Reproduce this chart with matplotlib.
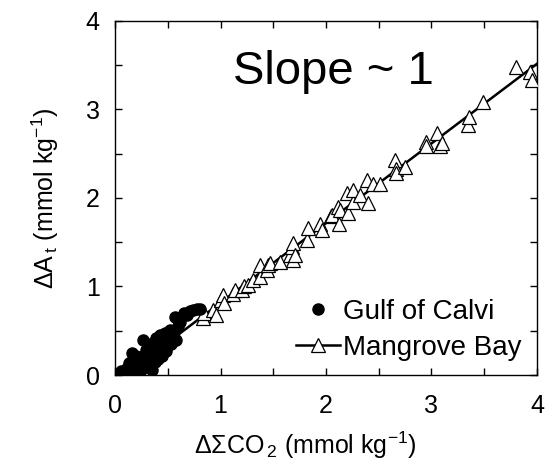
import numpy as np
import matplotlib
matplotlib.use("Agg")
import matplotlib.pyplot as plt
from matplotlib.lines import Line2D

plt.rcParams["font.family"] = ["Liberation Sans", "DejaVu Sans"]
plt.rcParams["mathtext.fontset"] = "custom"
plt.rcParams["mathtext.rm"] = "Liberation Sans"
plt.rcParams["mathtext.default"] = "regular"

# ── Data ──────────────────────────────────────────────────────────────────────

calvi_x = [0.05, 0.07, 0.08, 0.10, 0.12, 0.14, 0.15, 0.16, 0.18, 0.20, 0.21, 0.22,
           0.24, 0.25, 0.27, 0.28, 0.30, 0.32, 0.34, 0.36, 0.38, 0.40, 0.42, 0.43,
           0.45, 0.46, 0.47, 0.50, 0.52, 0.55, 0.57, 0.58, 0.62, 0.68, 0.74, 0.81,
           0.35, 0.25, 0.06, 0.09, 0.11, 0.13, 0.15, 0.17, 0.19, 0.20, 0.23, 0.26,
           0.29, 0.31, 0.33, 0.37, 0.39, 0.41, 0.44, 0.48, 0.49, 0.53, 0.56, 0.60,
           0.65, 0.71, 0.78]
calvi_y = [0.00, 0.02, 0.03, 0.05, 0.02, 0.09, 0.05, 0.25, 0.12, 0.08, 0.16, 0.03,
           0.13, 0.20, 0.40, 0.10, 0.21, 0.18, 0.28, 0.34, 0.15, 0.25, 0.35, 0.45,
           0.22, 0.30, 0.47, 0.38, 0.51, 0.44, 0.65, 0.40, 0.60, 0.68, 0.73, 0.75,
           0.06, 0.06, 0.04, 0.00, 0.08, 0.13, 0.00, 0.18, 0.03, 0.22, 0.08, 0.15,
           0.28, 0.12, 0.35, 0.22, 0.42, 0.18, 0.33, 0.27, 0.44, 0.35, 0.48, 0.55,
           0.70, 0.72, 0.74]

mangrove_x = [0.83, 0.84, 0.93, 0.96, 1.00, 1.02, 1.03, 1.12, 1.14, 1.20, 1.22, 1.26,
              1.31, 1.37, 1.37, 1.44, 1.45, 1.47, 1.56, 1.66, 1.68, 1.69, 1.69, 1.71,
              1.82, 1.83, 1.94, 1.96, 2.05, 2.06, 2.11, 2.12, 2.13, 2.20, 2.21, 2.26,
              2.26, 2.32, 2.39, 2.40, 2.45, 2.51, 2.65, 2.66, 2.66, 2.75, 2.95, 2.95,
              3.05, 3.08, 3.10, 3.35, 3.36, 3.49, 3.80, 3.93, 3.95]
mangrove_y = [0.64, 0.70, 0.73, 0.68, 0.85, 0.90, 0.81, 0.92, 0.96, 0.96, 1.00, 1.02,
              1.07, 1.11, 1.24, 1.19, 1.24, 1.26, 1.28, 1.35, 1.45, 1.49, 1.30, 1.35,
              1.52, 1.66, 1.71, 1.64, 1.79, 1.81, 1.90, 1.71, 1.86, 2.05, 1.83, 1.95,
              2.09, 2.03, 2.20, 1.94, 2.16, 2.16, 2.43, 2.33, 2.28, 2.35, 2.63, 2.58,
              2.73, 2.58, 2.62, 2.82, 2.91, 3.08, 3.48, 3.42, 3.33]

fit_range = [0.3, 4.0]
ticks = [0, 1, 2, 3, 4]

# ── Figure ────────────────────────────────────────────────────────────────────

fig = plt.figure(figsize=(5.54, 4.69), dpi=100, facecolor="white")
ax = fig.add_axes([0.2076, 0.2004, 0.7617, 0.7555])

slope, intercept = np.polyfit(mangrove_x, mangrove_y, 1)
xf = np.array(fit_range)
ax.plot(xf, slope * xf + intercept, color="black", lw=1.8, zorder=2)

ax.plot(mangrove_x, mangrove_y, linestyle="none", marker="^", markersize=10.5,
        markerfacecolor="white", markeredgecolor="black", markeredgewidth=0.9, zorder=3)
ax.plot(calvi_x, calvi_y, linestyle="none", marker="o", markersize=8,
        color="black", zorder=4)

ax.set_xlim(0, 4)
ax.set_ylim(0, 4)
ax.set_xticks(ticks)
ax.set_yticks(ticks)
ax.set_xticks(np.arange(0.5, 4, 1), minor=True)
ax.set_yticks(np.arange(0.5, 4, 1), minor=True)
ax.tick_params(which="both", direction="in", top=True, right=True,
               length=5, width=1, labelsize=18)
ax.tick_params(axis="x", which="major", pad=14)
ax.tick_params(axis="y", which="major", pad=11)
for s in ax.spines.values():
    s.set_linewidth(1)

ax.set_xlabel(r"$\Delta\Sigma$CO$_{\,2}$ (mmol kg$^{-1}$)", fontsize=18)
ax.xaxis.set_label_coords(0.45, -0.155)
ax.set_ylabel(r"$\Delta$A$_{\,t}$ (mmol kg$^{-1}$)", fontsize=18, labelpad=18)

ax.text(2.07, 3.42, "Slope ~ 1", fontsize=34, ha="center", va="center")

handles = [
    Line2D([], [], linestyle="none", marker="o", markersize=8, color="black"),
    Line2D([], [], color="black", lw=1.8, marker="^", markersize=10.5,
           markerfacecolor="white", markeredgecolor="black", markeredgewidth=0.9),
]
ax.legend(handles, ["Gulf of Calvi", "Mangrove Bay"], loc="lower right",
          bbox_to_anchor=(1.01, -0.015), frameon=False, fontsize=20,
          handlelength=1.6, handletextpad=0.1, labelspacing=0.35, borderaxespad=0.3)

fig.savefig("out.png", dpi=100, facecolor="white")
